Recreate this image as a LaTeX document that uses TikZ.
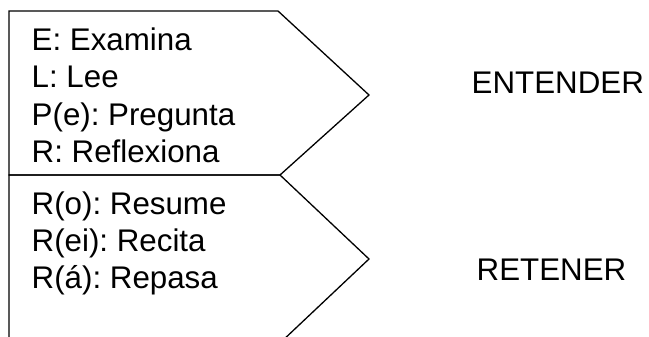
\documentclass[tikz,border=0pt]{standalone}
\usepackage{fontspec}
\setmainfont{Liberation Sans}
\frenchspacing
\begin{document}
\begin{tikzpicture}[x=1pt,y=-1pt,
  chevron/.style={draw=black,line width=1.3pt,line join=miter},
  item/.style={anchor=base west,inner sep=0pt,font=\fontsize{31.3}{36}\selectfont},
  phase/.style={anchor=base west,inner sep=0pt,font=\fontsize{31.3}{36}\selectfont}]
  \useasboundingbox (0,0) rectangle (649,337);
  \clip (0,0) rectangle (649,337);

  % corner points of the two pentagon arrows
  \coordinate (t1) at (9,11);
  \coordinate (t2) at (278,11);
  \coordinate (tp) at (369,95);
  \coordinate (m2) at (280,175);
  \coordinate (m1) at (9,175);
  \coordinate (bp) at (369,259);
  \coordinate (b2) at (280,343);
  \coordinate (b1) at (9,343);

  \draw[chevron] (t1) -- (t2) -- (tp) -- (m2) -- (m1) -- cycle;
  \draw[chevron] (m1) -- (m2) -- (bp) -- (b2) -- (b1) -- cycle;

  % first phase
  \node[item] (e)  at (31.5,50.5) {E: Examina};
  \node[item] (l)  at (31.5,88)   {L: Lee};
  \node[item] (p)  at (31.5,125)  {P(e): Pregunta};
  \node[item] (r)  at (31.5,162)  {R: Reflexiona};
  % second phase
  \node[item] (ro) at (31.5,214.5){R(o): Resume};
  \node[item] (re) at (31.5,251.5){R(ei): Recita};
  \node[item] (ra) at (31.5,288.5){R(á): Repasa};

  \node[phase] (ent) at (471.5,93.3) {ENTENDER};
  \node[phase] (ret) at (476.5,280)  {RETENER};
\end{tikzpicture}
\end{document}
